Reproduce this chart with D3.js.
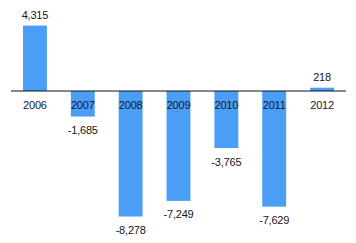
<!DOCTYPE html>
<html lang="en">
<head>
<meta charset="utf-8" />
<title>Annual values 2006-2012</title>
<script src="https://cdn.jsdelivr.net/npm/d3@7/dist/d3.min.js"></script>
<style>
  body{margin:0;background:#fff;font-family:"Liberation Sans",Arial,sans-serif}
  svg{display:block}
  .bar{fill:#4a9ef5}
  .lbl{font-size:11px;fill:#15152a;letter-spacing:-0.2px}
</style>
</head>
<body>
<svg id="chart" width="356" height="243"></svg>
<script>
const years=['2006','2007','2008','2009','2010','2011','2012'];
const values=[4315,-1685,-8278,-7249,-3765,-7629,218];

const svg=d3.select('#chart');
const x=d3.scaleBand().domain(years).range([11,346]).paddingInner(0.5).paddingOuter(0.25);
const y=d3.scaleLinear().domain([0,-8278]).range([91,216.5]);
// plain hyphen for negatives, like the original
const fmt=v=>d3.format(',')(v).replace('\u2212','-');

const data=years.map((yr,i)=>({yr,v:values[i]}));

// bars
svg.selectAll('rect.bar').data(data).join('rect')
  .attr('class','bar')
  .attr('x',d=>x(d.yr))
  .attr('width',x.bandwidth())
  .attr('y',d=>Math.min(y(d.v),y(0)))
  .attr('height',d=>Math.abs(y(d.v)-y(0)));

// zero axis line
svg.append('line')
  .attr('x1',11).attr('x2',346)
  .attr('y1',y(0)).attr('y2',y(0))
  .attr('stroke','#111').attr('stroke-width',1.2);

// year labels
svg.selectAll('text.yr').data(data).join('text')
  .attr('class','lbl yr')
  .attr('x',d=>x(d.yr)+x.bandwidth()/2)
  .attr('y',y(0)+18)
  .attr('text-anchor','middle')
  .text(d=>d.yr);

// value labels
svg.selectAll('text.val').data(data).join('text')
  .attr('class','lbl val')
  .attr('x',d=>x(d.yr)+x.bandwidth()/2)
  .attr('y',d=>d.v>=0?y(d.v)-7:y(d.v)+17.5)
  .attr('text-anchor','middle')
  .text(d=>fmt(d.v));
</script>
</body>
</html>
